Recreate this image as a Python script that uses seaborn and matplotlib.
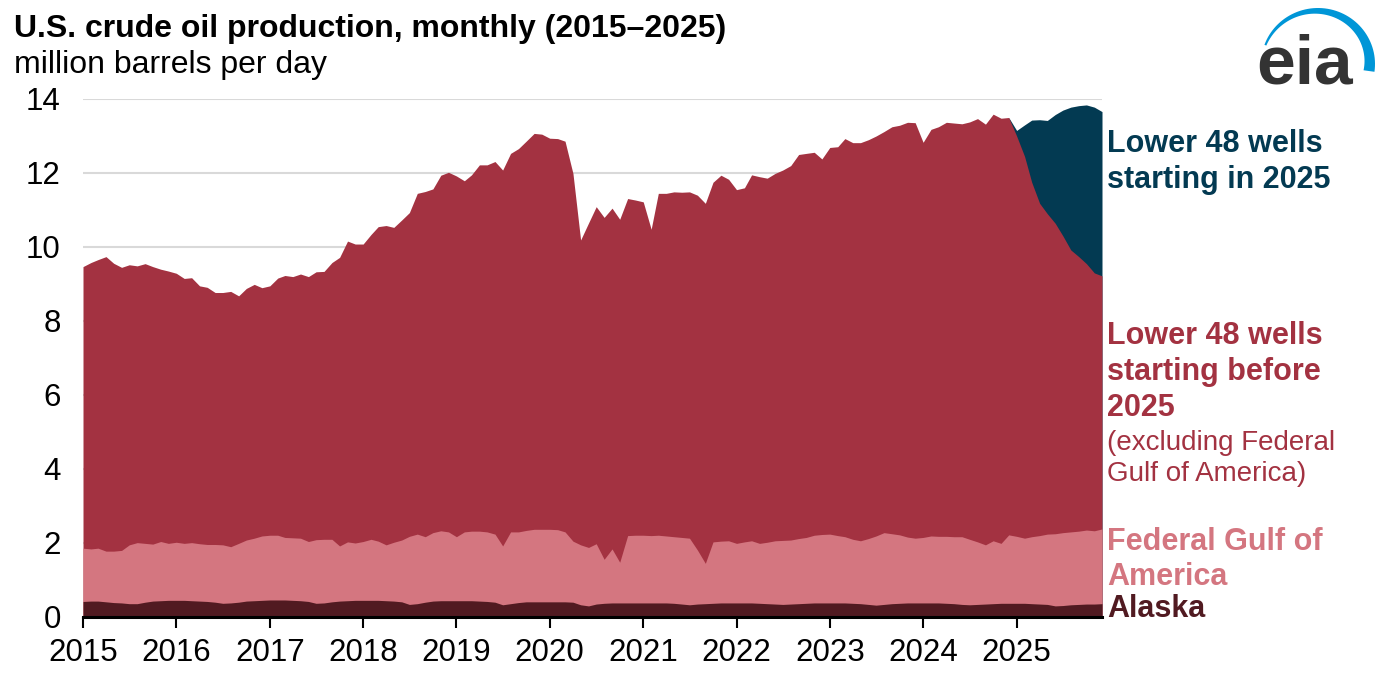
import numpy as np
import pandas as pd
import seaborn as sns
import matplotlib.pyplot as plt

# === Data (million barrels per day), monthly Jan 2015 - Dec 2025 ===
months = pd.date_range("2015-01-01", "2025-12-01", freq="MS")

# top of the Alaska band
alaska_top = [
    0.42, 0.43, 0.43, 0.41, 0.39, 0.38, 0.36, 0.36, 0.40, 0.43, 0.44, 0.45,
    0.45, 0.45, 0.44, 0.43, 0.42, 0.40, 0.37, 0.38, 0.40, 0.43, 0.44, 0.45,
    0.46, 0.46, 0.46, 0.45, 0.44, 0.42, 0.37, 0.38, 0.41, 0.43, 0.44, 0.45,
    0.45, 0.45, 0.45, 0.44, 0.43, 0.41, 0.34, 0.36, 0.40, 0.43, 0.44, 0.44,
    0.44, 0.44, 0.44, 0.43, 0.42, 0.40, 0.33, 0.36, 0.39, 0.41, 0.41, 0.41,
    0.41, 0.41, 0.41, 0.40, 0.33, 0.30, 0.35, 0.37, 0.38, 0.38, 0.38, 0.38,
    0.38, 0.38, 0.38, 0.38, 0.37, 0.35, 0.33, 0.35, 0.36, 0.37, 0.38, 0.38,
    0.38, 0.38, 0.38, 0.37, 0.36, 0.35, 0.34, 0.35, 0.36, 0.37, 0.38, 0.38,
    0.38, 0.38, 0.38, 0.37, 0.36, 0.34, 0.32, 0.34, 0.36, 0.37, 0.38, 0.38,
    0.38, 0.38, 0.38, 0.37, 0.36, 0.34, 0.33, 0.34, 0.35, 0.36, 0.37, 0.37,
    0.37, 0.37, 0.36, 0.35, 0.34, 0.30, 0.31, 0.33, 0.34, 0.35, 0.35, 0.36,
]

# top of the Federal Gulf of America band (stacked on Alaska)
gulf_top = [
    1.86, 1.84, 1.86, 1.78, 1.78, 1.80, 1.95, 2.01, 1.99, 1.97, 2.04, 1.99,
    2.02, 1.99, 2.01, 1.98, 1.96, 1.96, 1.95, 1.90, 1.99, 2.08, 2.13, 2.19,
    2.21, 2.21, 2.15, 2.14, 2.13, 2.04, 2.09, 2.10, 2.10, 1.92, 2.03, 2.00,
    2.04, 2.10, 2.05, 1.95, 2.02, 2.08, 2.18, 2.24, 2.17, 2.28, 2.33, 2.30,
    2.17, 2.30, 2.32, 2.32, 2.30, 2.24, 1.92, 2.30, 2.30, 2.34, 2.37, 2.37,
    2.37, 2.36, 2.30, 2.05, 1.95, 1.88, 1.98, 1.56, 1.84, 1.48, 2.20, 2.21,
    2.21, 2.20, 2.21, 2.19, 2.17, 2.15, 2.13, 1.81, 1.45, 2.03, 2.05, 2.06,
    1.99, 2.03, 2.06, 1.99, 2.02, 2.06, 2.07, 2.08, 2.12, 2.15, 2.21, 2.23,
    2.24, 2.20, 2.17, 2.10, 2.06, 2.12, 2.19, 2.28, 2.25, 2.22, 2.16, 2.13,
    2.15, 2.19, 2.18, 2.18, 2.17, 2.17, 2.10, 2.03, 1.95, 2.06, 1.99, 2.22,
    2.18, 2.13, 2.17, 2.20, 2.24, 2.25, 2.28, 2.30, 2.32, 2.35, 2.33, 2.38,
]

# total U.S. production (top of the stack)
total_top = [
    9.47, 9.58, 9.66, 9.74, 9.56, 9.45, 9.52, 9.49, 9.55, 9.47, 9.40, 9.35,
    9.29, 9.15, 9.17, 8.95, 8.91, 8.77, 8.77, 8.80, 8.68, 8.88, 8.99, 8.90,
    8.95, 9.16, 9.23, 9.20, 9.27, 9.20, 9.33, 9.34, 9.58, 9.72, 10.16, 10.08,
    10.08, 10.34, 10.55, 10.58, 10.53, 10.73, 10.93, 11.45, 11.50, 11.57, 11.94, 12.02,
    11.92, 11.79, 11.95, 12.22, 12.22, 12.31, 12.08, 12.53, 12.66, 12.86, 13.07, 13.05,
    12.94, 12.93, 12.86, 11.99, 10.19, 10.65, 11.09, 10.80, 11.05, 10.75, 11.31, 11.27,
    11.22, 10.48, 11.45, 11.45, 11.49, 11.48, 11.49, 11.40, 11.18, 11.75, 11.94, 11.83,
    11.55, 11.60, 11.95, 11.90, 11.86, 11.99, 12.08, 12.20, 12.50, 12.53, 12.56, 12.38,
    12.69, 12.71, 12.93, 12.82, 12.82, 12.90, 13.00, 13.12, 13.25, 13.29, 13.37, 13.36,
    12.83, 13.18, 13.25, 13.37, 13.35, 13.33, 13.38, 13.47, 13.32, 13.59, 13.48, 13.50,
    13.15, 13.30, 13.43, 13.44, 13.42, 13.58, 13.70, 13.78, 13.82, 13.84, 13.78, 13.66,
]

# top of "Lower 48 wells starting before 2025" during 2025 (earlier it equals the total)
old_wells_top_2025 = [13.00, 12.45, 11.75, 11.18, 10.90, 10.64, 10.30, 9.92, 9.74, 9.55, 9.30, 9.22]

old_top = list(total_top[:120]) + old_wells_top_2025

# === Style ===
sns.set_style("white")
plt.rcParams['font.family'] = ['Liberation Sans', 'DejaVu Sans']

c_new = "#033a52"
c_old = "#a33241"
c_gulf = "#d47680"
c_ak = "#511a21"

W, H = 1381, 679
fig = plt.figure(figsize=(W / 100, H / 100), dpi=100)
ax = fig.add_axes([83 / W, 1 - 617 / H, (1102 - 83) / W, (617 - 99) / H])

# draw back to front, each from zero, so bands touch without seams
ax.fill_between(months[119:], 0, total_top[119:], color=c_new, lw=0, zorder=2)
ax.fill_between(months, 0, old_top, color=c_old, lw=0, zorder=3)
ax.fill_between(months, 0, gulf_top, color=c_gulf, lw=0, zorder=4)
ax.fill_between(months, 0, alaska_top, color=c_ak, lw=0, zorder=5)

ax.set_xlim(months[0], months[-1])
ax.set_ylim(0, 14)
ax.set_yticks(range(0, 15, 2))
ax.yaxis.grid(True, color="#d9d9d9", lw=1.5, zorder=0)
ax.set_axisbelow(True)

years = pd.date_range("2015-01-01", "2025-01-01", freq="YS")
ax.set_xticks(years)
ax.set_xticklabels([str(y.year) for y in years])
ax.tick_params(axis='x', bottom=True, length=8, width=1.5, color='black', pad=7,
               labelsize=22.5, labelcolor='black', direction='out')
ax.tick_params(axis='y', left=False, length=0, pad=16, labelsize=22.5, labelcolor='black')
sns.despine(ax=ax, left=True)
ax.spines['bottom'].set_linewidth(2.2)
ax.spines['bottom'].set_color('black')
ax.spines['bottom'].set_zorder(6)
ax.set_xlabel("")
ax.set_ylabel("")

# === Overlay for titles, labels and logo (pixel coordinates) ===
ov = fig.add_axes([0, 0, 1, 1], facecolor='none')
ov.set_xlim(0, W)
ov.set_ylim(H, 0)
ov.axis('off')

ov.text(14, 37, "U.S. crude oil production, monthly (2015\u20132025)", fontsize=23,
        fontweight='bold', color='black', va='baseline')
ov.text(14, 73, "million barrels per day", fontsize=23, color='black', va='baseline')

lx = 1107
ov.text(lx, 152, "Lower 48 wells", fontsize=22, fontweight='bold', color=c_new, va='baseline')
ov.text(lx, 188, "starting in 2025", fontsize=22, fontweight='bold', color=c_new, va='baseline')
ov.text(lx, 344, "Lower 48 wells", fontsize=22, fontweight='bold', color=c_old, va='baseline')
ov.text(lx, 380, "starting before", fontsize=22, fontweight='bold', color=c_old, va='baseline')
ov.text(lx, 416, "2025", fontsize=22, fontweight='bold', color=c_old, va='baseline')
ov.text(lx, 450, "(excluding Federal", fontsize=20, color=c_old, va='baseline')
ov.text(lx, 481, "Gulf of America)", fontsize=20, color=c_old, va='baseline')
ov.text(lx, 550, "Federal Gulf of", fontsize=22, fontweight='bold', color=c_gulf, va='baseline')
ov.text(lx, 585, "America", fontsize=22, fontweight='bold', color=c_gulf, va='baseline')
ov.text(lx, 617, "Alaska", fontsize=22, fontweight='bold', color=c_ak, va='baseline')

# eia logo: swoosh + letters
t = np.linspace(np.radians(160), np.radians(-8), 60)
cx, cy, a, b = 1318, 64, 57, 56
w = 2 + 9 * (np.radians(160) - t) / np.radians(168)
xo, yo = cx + a * np.cos(t), cy - b * np.sin(t)
xi, yi = cx + (a - w) * np.cos(t), cy - (b - w) * np.sin(t)
ov.fill(np.concatenate([xo, xi[::-1]]), np.concatenate([yo, yi[::-1]]), color="#0096d7", lw=0)
ov.text(1256, 84, "eia", fontsize=50, fontweight='bold', color="#333333", va='baseline')

fig.savefig("out.png", dpi=100)
